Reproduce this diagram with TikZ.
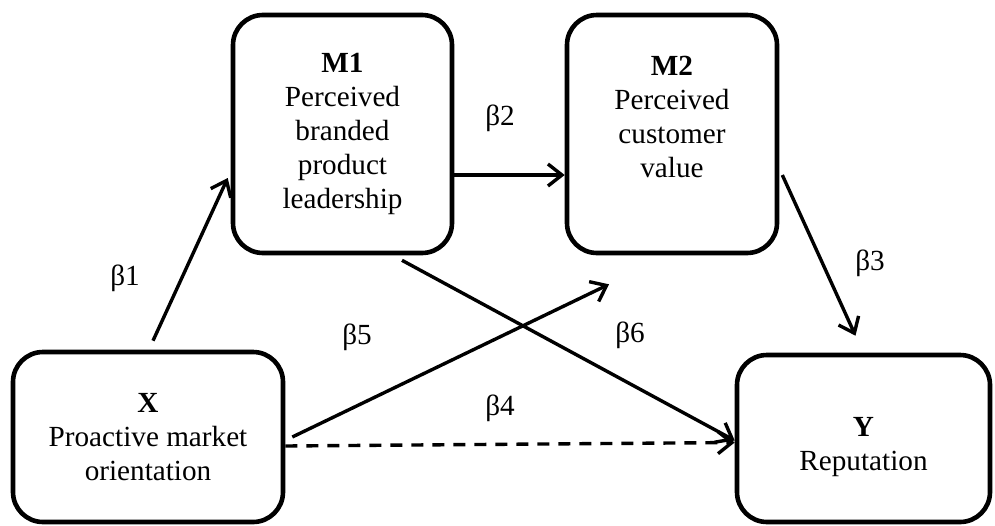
\documentclass[tikz,border=0pt]{standalone}
\usepackage{fontspec}
\setmainfont{Liberation Serif}
\usepackage{tikz}
\usetikzlibrary{arrows.meta}
\tikzstyle{varbox} = [rectangle, rounded corners=15pt, line width=2.3pt, draw=black, fill=white, align=center, inner sep=0pt, font=\fontsize{14.6}{17}\selectfont]
\tikzstyle{arrow} = [line width=1.7pt, -{Straight Barb[length=7pt,width=11pt]}]
\tikzstyle{coef} = [font=\fontsize{14.6}{17}\selectfont]

\begin{document}
\begin{tikzpicture}[x=0.5pt,y=-0.5pt]
        \useasboundingbox (0,0) rectangle (995,525);
        \node (M1) [varbox, minimum width=109.5pt, minimum height=119pt] at (342.5,134) {\textbf{M1}\\Perceived\\branded\\product\\leadership};
        \node (M2) [varbox, minimum width=105pt, minimum height=119pt] at (672,134) {\textbf{M2}\\Perceived\\customer\\value\\\mbox{}};
        \node (X) [varbox, minimum width=135pt, minimum height=85pt] at (148,437) {\textbf{X}\\Proactive market\\orientation};
        \node (Y) [varbox, minimum width=126.5pt, minimum height=83.5pt] at (863.5,438.5) {\rule{0pt}{18pt}\textbf{Y}\\Reputation};
        % path coefficients
        \node (b1) [coef] at (125,278) {β1};
        \node (b2) [coef] at (500,118) {β2};
        \node (b3) [coef] at (870,263) {β3};
        \node (b4) [coef] at (500,408) {β4};
        \node (b5) [coef] at (357,337) {β5};
        \node (b6) [coef] at (630,335) {β6};
        \draw [arrow] ([xshift=2.5pt,yshift=4.5pt]X.north) -- ([xshift=-1.5pt,yshift=-22pt]M1.west);
        \draw [arrow] ([yshift=-20.5pt]M1.east) -- ([yshift=-20.5pt]M2.west);
        \draw [arrow] ([xshift=1.5pt,yshift=-20.5pt]M2.east) -- ([xshift=-4pt,yshift=8.5pt]Y.north);
        \draw [arrow] ([xshift=3.5pt]X.east) -- ([xshift=-31.5pt,yshift=-14.5pt]M2.south);
        \draw [arrow] ([xshift=29.75pt,yshift=-2.5pt]M1.south) -- ([yshift=-1pt]Y.west);
        \draw [arrow, dash pattern=on 6pt off 4.5pt] ([yshift=-4.5pt]X.east) -- ([yshift=-2pt]Y.west);
    \end{tikzpicture}
\end{document}
